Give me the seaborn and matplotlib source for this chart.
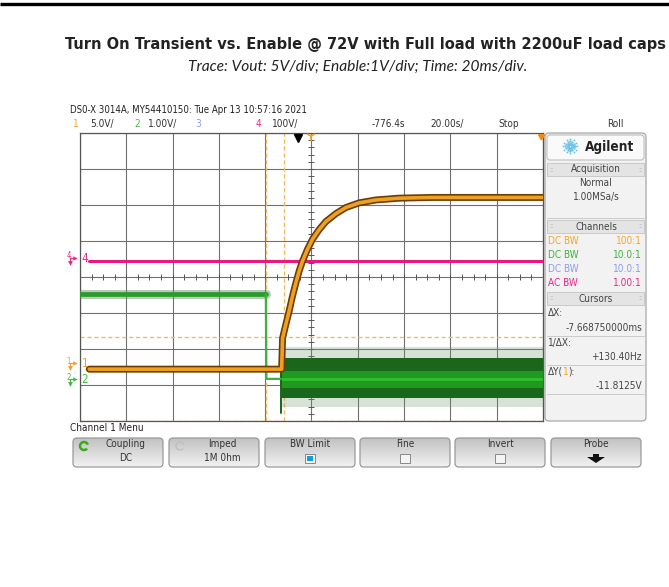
import os
import numpy as np
import pandas as pd
import matplotlib
matplotlib.use("Agg")
import matplotlib.pyplot as plt
import seaborn as sns
from matplotlib.patches import FancyBboxPatch, Rectangle, Polygon, Arc
from matplotlib import font_manager as fm

W, H = 669, 587

# ---------------- data (x in ms, y in divisions) -------------
vout_t = [-96, -12.9, -12.5, -11.06, -9.63, -8.21, -6.74, -5.31, -3.89, -1.73, 0.43,
          3.33, 6.22, 10.54, 14.86, 20.6, 27.8, 37.9, 52.3, 100]
vout_div = [-2.56, -2.56, -1.70, -1.31, -0.94, -0.53, -0.16, 0.17, 0.44, 0.77, 1.05,
            1.32, 1.54, 1.76, 1.93, 2.06, 2.14, 2.19, 2.21, 2.21]

enable_t = [-100, -19.7, -19.5, -13.3]
enable_div = [-0.48, -0.48, -2.83, -2.83]

noise_t = [-13.2, 100]
noise_center = [-2.83, -2.83]
noise_outer_hi = [-1.95, -1.95]
noise_outer_lo = [-3.60, -3.60]
noise_dark_hi = [-2.24, -2.24]
noise_dark_lo = [-3.36, -3.36]
noise_inner_hi = [-2.62, -2.62]
noise_inner_lo = [-3.08, -3.08]
spike_t = [-13.0, -13.0]
spike_div = [-2.40, -3.77]

ch4_t = [-96, 100]
ch4_div = [0.44, 0.44]

cursor_x = [-19.44, -11.77]
cursor_y = [-1.68, -3.99]
trigger_t = -5.87

# ---------------- fonts ----------------
sns.set_theme(style="white")
plt.rcParams['font.family'] = ['Roboto', 'DejaVu Sans']
files = fm.findSystemFonts()

def pick(patterns):
    for p in patterns:
        for f in files:
            if os.path.basename(f).lower().startswith(p.lower()):
                return f
    return None

f_reg = pick(["LiberationSansNarrow-Regular", "DejaVuSansCondensed.", "RobotoCondensed-Regular",
              "NotoSans-Condensed.", "NotoSans-SemiCondensed."])
f_bold = pick(["LiberationSansNarrow-Bold.", "DejaVuSansCondensed-Bold.", "RobotoCondensed-Bold.",
               "NotoSans-CondensedBold.", "NotoSans-SemiCondensedBold."])
FP_REG = fm.FontProperties(fname=f_reg) if f_reg else fm.FontProperties(family=["Roboto", "DejaVu Sans"])
FP_BOLD = (fm.FontProperties(fname=f_bold) if f_bold
           else fm.FontProperties(family=["Roboto", "DejaVu Sans"], weight="bold"))
FP_SYM = fm.FontProperties(family=["DejaVu Sans"])

fig = plt.figure(figsize=(W / 100, H / 100), dpi=100)
bg = fig.add_axes([0, 0, 1, 1], zorder=0)
bg.set_xlim(0, W)
bg.set_ylim(H, 0)
bg.axis("off")
ov = fig.add_axes([0, 0, 1, 1], zorder=5)
ov.set_xlim(0, W)
ov.set_ylim(H, 0)
ov.axis("off")
ov.patch.set_alpha(0)

renderer = fig.canvas.get_renderer()

def T(x, y, s, size=7.2, color="#333333", ha="left", va="center", fp=None, axes=None, **kw):
    a = axes or bg
    if fp is None:
        fp = FP_REG
    return a.text(x, y, s, fontproperties=fp, fontsize=size, color=color, ha=ha, va=va, **kw)

def fit(t, target, lo=0):
    w = t.get_window_extent(renderer).width
    if w > 0:
        t.set_fontsize(max(lo, t.get_fontsize() * target / w))

def width(t):
    return t.get_window_extent(renderer).width

# top black rule
bg.plot([0, W], [4, 4], color="black", lw=2.4, solid_capstyle="butt")

# title + subtitle
tt = T(365.5, 45, "Turn On Transient vs. Enable @ 72V with Full load with 2200uF load caps",
       size=14, color="#222222", ha="center", fp=FP_BOLD)
fit(tt, 601)
st = T(357.5, 67, "Trace: Vout: 5V/div; Enable:1V/div; Time: 20ms/div.", size=9,
       color="#222222", ha="center", fp=fm.FontProperties(family="Lato", style="italic"))
fit(st, 339)

# header lines of the scope
hd = T(70, 110, "DS0-X 3014A, MY54410150: Tue Apr 13 10:57:16 2021", size=7.2, color="#222222")
fit(hd, 215, lo=6.9)
HS = min(7.6, hd.get_fontsize() * 1.05)
T(73, 124, "1", color="#f0a030", size=HS)
T(90, 124, "5.0V/", size=HS)
T(134, 124, "2", color="#44bb44", size=HS)
T(148, 124, "1.00V/", size=HS)
T(195, 124, "3", color="#8c9cf0", size=HS)
T(256, 124, "4", color="#e8288c", size=HS)
T(272, 124, "100V/", size=HS)
T(372, 124, "-776.4s", size=HS)
T(430, 124, "20.00s/", size=HS)
T(498, 124, "Stop", size=HS)
T(615, 124, "Roll", size=HS, ha="center")

# ---------------- right panel ----------------
bg.add_patch(FancyBboxPatch((545, 133), 101, 288, boxstyle="round,pad=0,rounding_size=4",
                            fc="#f2f2f2", ec="#a8a8a8", lw=0.9))
bg.add_patch(FancyBboxPatch((547, 135), 97, 25, boxstyle="round,pad=0,rounding_size=3",
                            fc="#fafafa", ec="#b8b8b8", lw=0.7))
cx, cy = 570, 146
for a in np.linspace(0, 2 * np.pi, 12, endpoint=False):
    for r, s in [(2.5, 2.0), (4.8, 1.7), (7.0, 1.3)]:
        bg.plot(cx + r * np.cos(a), cy + r * np.sin(a), "o", ms=s, color="#6cc4ec", mew=0)
ag = T(610, 146.5, "Agilent", size=10.5, color="#222222", ha="center", fp=FP_BOLD)
fit(ag, 50, lo=8)

PS = HS
def section(y0, label):
    bg.add_patch(Rectangle((547, y0), 97, 13, fc="#e4e4e4", ec="#c4c4c4", lw=0.6))
    T(596, y0 + 6.5, label, size=PS, ha="center", color="#444444")
    T(551, y0 + 6.5, "::", size=5, color="#aaaaaa", ha="center")
    T(640, y0 + 6.5, "::", size=5, color="#aaaaaa", ha="center")

section(163, "Acquisition")
T(596, 183, "Normal", size=PS, ha="center", color="#444444")
T(596, 197, "1.00MSa/s", size=PS, ha="center", color="#444444")
bg.plot([547, 644], [218, 218], color="#c4c4c4", lw=0.6)
section(220, "Channels")
rows = [("DC BW", "100:1", "#f5a623"), ("DC BW", "10.0:1", "#3cb43c"),
        ("DC BW", "10.0:1", "#8c9cf0"), ("AC BW", "1.00:1", "#e8288c")]
for i, (a, b, c) in enumerate(rows):
    yy = 241 + 14 * i
    T(548, yy, a, size=PS, color=c)
    T(642, yy, b, size=PS, color=c, ha="right")
section(292, "Cursors")
T(548, 313, "\u0394X:", size=PS, color="#444444")
T(642, 328, "-7.668750000ms", size=PS, color="#444444", ha="right")
bg.plot([547, 644], [336, 336], color="#c4c4c4", lw=0.6)
T(548, 343, "1/\u0394X:", size=PS, color="#444444")
T(642, 357, "+130.40Hz", size=PS, color="#444444", ha="right")
bg.plot([547, 644], [365, 365], color="#c4c4c4", lw=0.6)
t1 = T(548, 372, "\u0394Y(", size=PS, color="#444444")
x1 = 548 + width(t1)
t2 = T(x1, 372, "1", size=PS, color="#f5a623")
T(x1 + width(t2), 372, "):", size=PS, color="#444444")
T(642, 386, "-11.8125V", size=PS, color="#444444", ha="right")
bg.plot([547, 644], [394, 394], color="#c4c4c4", lw=0.6)

# ---------------- bottom menu ----------------
T(70, 428, "Channel 1 Menu", size=PS, color="#222222")
grad = np.linspace(0, 1, 64).reshape(-1, 1)
cmap_btn = matplotlib.colors.LinearSegmentedColormap.from_list("b", ["#c2c2c2", "#f2f2f2"])
btns = [("Coupling", "DC"), ("Imped", "1M 0hm"), ("BW Limit", None), ("Fine", None),
        ("Invert", None), ("Probe", None)]
starts = [73, 169, 265, 360, 455, 551]
for (top, bot), x0 in zip(btns, starts):
    box = FancyBboxPatch((x0, 438), 90, 29, boxstyle="round,pad=0,rounding_size=4",
                         fc="none", ec="#9a9a9a", lw=0.9, zorder=3)
    bg.add_patch(box)
    im = bg.imshow(grad, extent=(x0, x0 + 90, 467, 438), cmap=cmap_btn, aspect="auto", zorder=2)
    im.set_clip_path(box)
    cxb = x0 + 45
    if top in ("Coupling", "Imped"):
        T(cxb + 8, 444, top, size=PS, ha="center", color="#333333")
        T(cxb + 8, 458, bot, size=PS, ha="center", color="#333333")
        col = "#3aaa1a" if top == "Coupling" else "#bbbbbb"
        bg.add_patch(Arc((x0 + 11, 446), 8, 8, theta1=40, theta2=340,
                         color=col, lw=1.8 if top == "Coupling" else 0.8, zorder=4))
    else:
        T(cxb, 444, top, size=PS, ha="center", color="#333333")
        if top == "Probe":
            bg.add_patch(Polygon([[cxb - 9, 457], [cxb + 9, 457], [cxb, 463]], closed=True,
                                 fc="#111111", ec="none", zorder=4))
            bg.add_patch(Rectangle((cxb - 3, 454), 6, 4, fc="#111111", ec="none", zorder=4))
        else:
            bg.add_patch(Rectangle((cxb - 5, 454), 10, 9, fc="#f4f4f4", ec="#888888", lw=0.7, zorder=4))
            if top == "BW Limit":
                bg.add_patch(Rectangle((cxb - 3, 456), 6, 5, fc="#1a9ad8", ec="none", zorder=5))

# channel markers on the left of the screen
for lab, yy, col in [("4", 258.5, "#e8288c"), ("1", 363.5, "#f0a030"), ("2", 379.5, "#44bb44")]:
    T(68.5, yy - 2.5, lab, size=5.5, color=col, ha="center", axes=ov)
    ov.plot([69.5, 73.5], [yy - 0.5, yy - 0.5], color=col, lw=0.9)
    ov.plot([74.5], [yy - 0.5], marker=">", ms=3.2, color=col, mew=0)
    ov.plot([69.5, 69.5], [yy - 0.5, yy + 4], color=col, lw=0.9)
    ov.plot([69.5], [yy + 4.5], marker="v", ms=3.5, color=col, mew=0)
    T(85, yy, lab, size=HS * 1.15, color=col, ha="center", axes=ov)

# ---------------- scope screen ----------------
ax = fig.add_axes([80 / W, 1 - 421 / H, 463 / W, 288 / H], zorder=1)
ax.set_facecolor("white")
ax.set_xlim(-100, 100)
ax.set_ylim(-4, 4)
ax.set_xticks(np.arange(-100, 101, 20))
ax.set_yticks(np.arange(-4, 5, 1))
ax.grid(True, color="#707070", lw=0.8)
ax.tick_params(length=0, labelbottom=False, labelleft=False)
for sp in ax.spines.values():
    sp.set_color("#555555")
    sp.set_linewidth(0.9)

# center graticule ticks
ax.plot(np.arange(-100, 101, 5), np.zeros(41), "|", color="#555555", ms=4, mew=0.7, zorder=2)
ax.plot(np.zeros(41), np.arange(-4, 4.01, 0.2), "_", color="#555555", ms=4, mew=0.7, zorder=2)

# cursors
for cxv in cursor_x:
    ax.axvline(cxv, color="#f8b860", lw=1.0, ls=(0, (3, 2)), zorder=2)
for cyv in cursor_y:
    ax.axhline(cyv, color="#f8b860", lw=1.0, ls=(0, (3, 2)), zorder=2)

# channel 4 (pink)
sns.lineplot(x=ch4_t, y=ch4_div, ax=ax, color="#e8197d", lw=2.2, estimator=None, sort=False, zorder=3)

# channel 2 enable (green)
ax.fill_between(noise_t, noise_outer_lo, noise_outer_hi, color="#6f9a6f", alpha=0.28, lw=0, zorder=3)
ax.fill_between(noise_t, noise_dark_lo, noise_dark_hi, color="#1a661a", lw=0, zorder=3)
ax.fill_between(noise_t, noise_inner_lo, noise_inner_hi, color="#1f9a1f", lw=0, zorder=3)
sns.lineplot(x=noise_t, y=noise_center, ax=ax, color="#2fc02f", lw=2.0, estimator=None, sort=False, zorder=3)
sns.lineplot(x=spike_t, y=spike_div, ax=ax, color="#1a661a", lw=1.4, estimator=None, sort=False, zorder=3)
sns.lineplot(x=enable_t[:2], y=enable_div[:2], ax=ax, color="#5e8f5e", lw=6.5, alpha=0.45,
             estimator=None, sort=False, zorder=3)
sns.lineplot(x=enable_t[:2], y=enable_div[:2], ax=ax, color="#2a9a2a", lw=3.4,
             estimator=None, sort=False, zorder=3)
sns.lineplot(x=enable_t[1:], y=enable_div[1:], ax=ax, color="#3cb43c", lw=1.6,
             estimator=None, sort=False, zorder=3)

# channel 1 Vout (orange)
sns.lineplot(x=vout_t, y=vout_div, ax=ax, color="#6b3d00", lw=5.0, estimator=None, sort=False, zorder=4)
sns.lineplot(x=vout_t, y=vout_div, ax=ax, color="#f0a020", lw=2.6, estimator=None, sort=False, zorder=4)
if ax.get_legend() is not None:
    ax.get_legend().remove()

# top markers
ax.plot([trigger_t], [3.85], marker="v", color="black", ms=6, clip_on=False, zorder=6)
ax.plot([0], [3.92], marker="1", color="#f0a030", ms=7, mew=1.2, clip_on=False, zorder=6)
ax.plot([99], [3.92], marker=(3, 0, 60), color="#f08a10", ms=5, clip_on=False, zorder=6)
ax.set_xlabel("")
ax.set_ylabel("")

fig.savefig("out.png", dpi=100)
